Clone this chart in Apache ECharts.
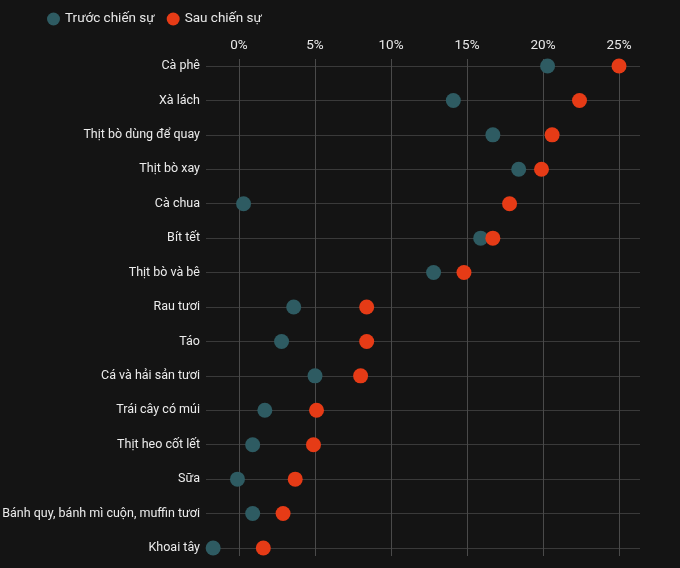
<!DOCTYPE html>
<html>
<head>
<meta charset="utf-8">
<script src="https://cdn.jsdelivr.net/npm/echarts@6/dist/echarts.min.js"></script>
<style>
  html, body { margin: 0; padding: 0; background: #141414; }
  #container { width: 680px; height: 568px; }
</style>
</head>
<body>
<div id="container"></div>
<script>
var categories = ['Cà phê', 'Xà lách', 'Thịt bò dùng để quay', 'Thịt bò xay', 'Cà chua',
    'Bít tết', 'Thịt bò và bê', 'Rau tươi', 'Táo', 'Cá và hải sản tươi',
    'Trái cây có múi', 'Thịt heo cốt lết', 'Sữa', 'Bánh quy, bánh mì cuộn, muffin tươi', 'Khoai tây'];
// % thay đổi giá
var before = [20.3, 14.1, 16.7, 18.4, 0.3, 15.9, 12.8, 3.6, 2.8, 5.0, 1.7, 0.9, -0.1, 0.9, -1.7];
var after = [25.0, 22.4, 20.6, 19.9, 17.8, 16.7, 14.8, 8.4, 8.4, 8.0, 5.1, 4.9, 3.7, 2.9, 1.6];
var xTicks = [0, 5, 10, 15, 20, 25];

var font = 'Roboto, "Noto Sans", sans-serif';
var xMin = -2.17, xMax = 26.38;

var myChart = echarts.init(document.getElementById('container'));

function pairs(vals) {
    return vals.map(function (v, i) { return [v, categories[i]]; });
}

var options = {
    backgroundColor: '#141414',
    textStyle: {fontFamily: font},
    legend: {
        left: 42,
        top: 7,
        icon: 'circle',
        itemWidth: 13,
        itemHeight: 13,
        itemGap: 12,
        textStyle: {color: '#e8e8e8', fontSize: 13.5, fontFamily: font},
        data: ['Trước chiến sự', 'Sau chiến sự']
    },
    grid: [
        {left: 206, right: 40, top: 66, bottom: 20, outerBoundsMode: 'none', containLabel: false},
        {left: 206, right: 40, top: 59, bottom: 12, outerBoundsMode: 'none', containLabel: false}
    ],
    xAxis: [
        {
            gridIndex: 0, type: 'value', min: xMin, max: xMax,
            axisLine: {show: false}, axisTick: {show: false},
            axisLabel: {show: false}, splitLine: {show: false}
        },
        {
            gridIndex: 1, type: 'value', position: 'top', min: xMin, max: xMax,
            axisLine: {show: false},
            axisTick: {show: false, customValues: xTicks},
            axisLabel: {
                customValues: xTicks,
                color: '#e8e8e8', fontSize: 13.5, margin: 6, fontFamily: font,
                formatter: '{value}%'
            },
            splitLine: {show: true, lineStyle: {color: '#4a4a4a', width: 1}}
        }
    ],
    yAxis: [
        {
            gridIndex: 0, type: 'category', data: categories, inverse: true,
            boundaryGap: false,
            axisLine: {show: false}, axisTick: {show: false},
            axisLabel: {color: '#ececec', fontSize: 12.5, margin: 6, fontFamily: font},
            splitLine: {show: true, lineStyle: {color: '#3a3a3a', width: 1}}
        },
        {
            gridIndex: 1, type: 'value', show: false
        }
    ],
    series: [
        {
            name: 'Trước chiến sự',
            type: 'scatter',
            xAxisIndex: 0, yAxisIndex: 0,
            symbolSize: 15,
            itemStyle: {color: '#2e5b62', opacity: 1},
            z: 3,
            data: pairs(before)
        },
        {
            name: 'Sau chiến sự',
            type: 'scatter',
            xAxisIndex: 0, yAxisIndex: 0,
            symbolSize: 15,
            itemStyle: {color: '#e63b16', opacity: 1},
            z: 4,
            data: pairs(after)
        }
    ]
};

myChart.setOption(options);
</script>
</body>
</html>
